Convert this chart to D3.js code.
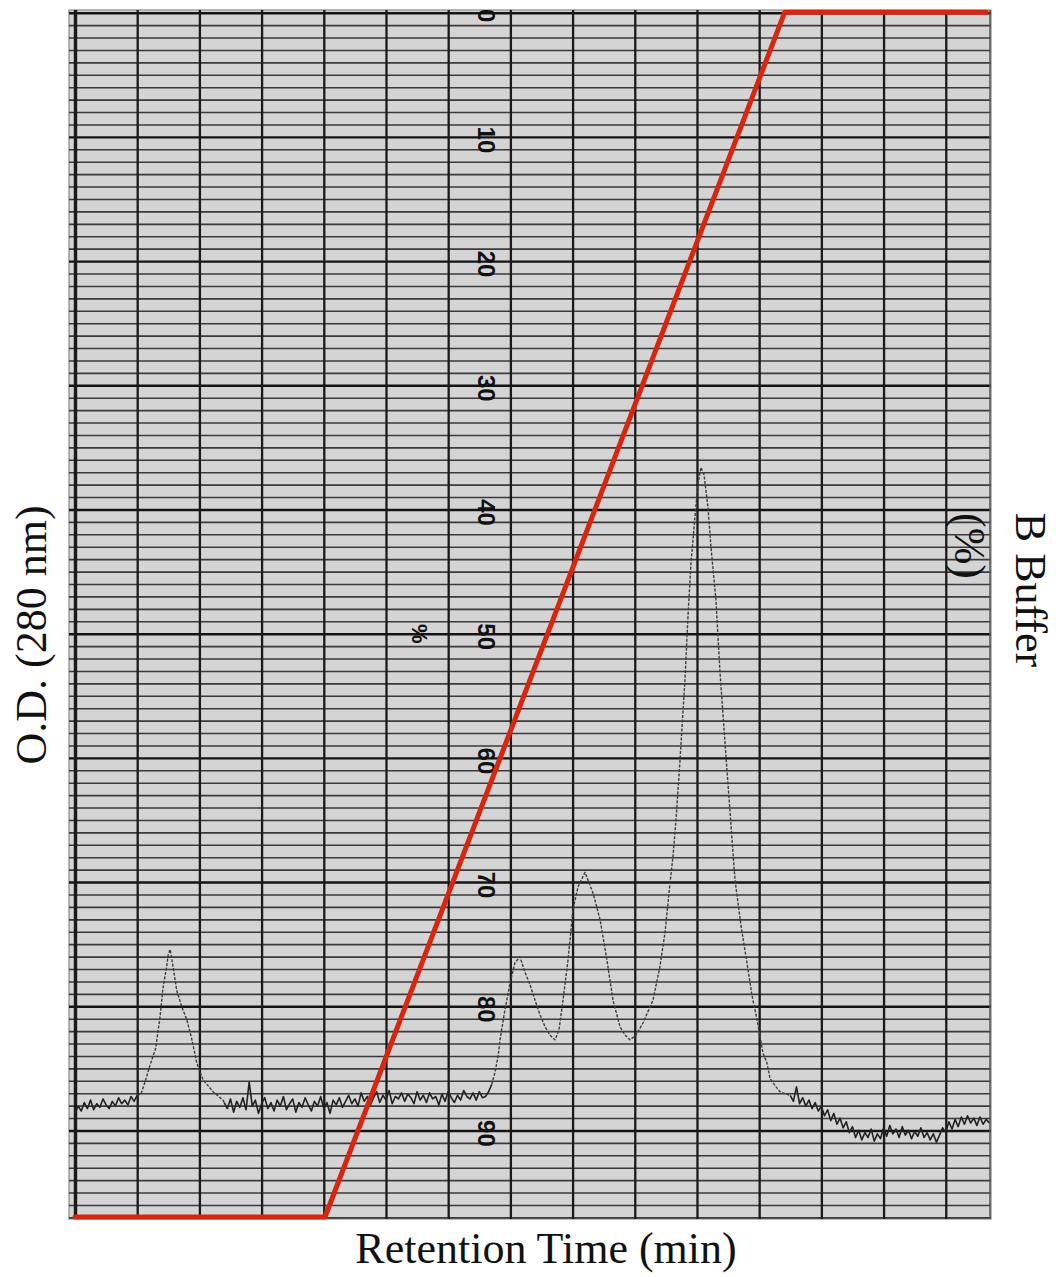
<!DOCTYPE html>
<html><head><meta charset="utf-8">
<script src="https://cdn.jsdelivr.net/npm/d3@7"></script>
<style>body{margin:0;background:#fff} svg{display:block}</style>
</head><body><svg id="chart" width="1056" height="1277"></svg>
<script>
// ---------- data ----------
const timeDomain = [0, 14.7];              // chart-paper divisions (retention time)
const timeGridValues = d3.range(0, 15);     // vertical paper lines
const paperPercentMax = 97;                 // printed paper scale visible (0 at top)
const paperGridValues = d3.range(0, 98);    // horizontal paper lines
const paperLabels = [0, 10, 20, 30, 40, 50, 60, 70, 80, 90];

// B buffer gradient (%)
const gradientTime = [0, 4.02, 11.41, 14.65];
const gradientB    = [0, 0, 100, 100];

// O.D. 280 nm trace (mAU), baseline sections sampled every 0.05 division
const baselineStep = 0.05;
const baseline1Start = 0.0;
const baseline1 = [86, 92, 88, 95, 90, 97, 89, 94, 91, 98, 93, 90, 96, 92, 99, 94, 97, 93, 100, 96, 101];
const peak1 = [[1.06,102],[1.125,112],[1.206,126],[1.297,140],[1.367,166],[1.415,190],[1.474,208],[1.50,218],[1.53,222],[1.576,208],[1.635,188],[1.72,174],[1.796,164],[1.876,148],[1.957,128],[2.058,114],[2.219,104],[2.379,97]];
const baseline2Start = 2.40;
const baseline2 = [
  95, 90, 98, 87, 96, 91, 99, 89, 112, 92,
  97, 86, 94, 99, 90, 95, 88, 97, 92, 100,
  89, 94, 98, 87, 95, 91, 99, 93, 88, 96,
  92, 100, 90, 95, 86, 97, 93, 99, 91, 96,
  101, 94, 98, 92, 103, 96, 100, 93, 99, 104,
  95, 101, 97, 105, 94, 100, 98, 103, 96, 102,
  99, 94, 104, 97, 101, 95, 103, 98, 100, 93,
  102, 96, 104, 99, 95, 101, 97, 105, 100, 98,
  103, 97, 104, 99, 100, 104, 110];
const peaks234 = [[6.70,110],[6.752,120],[6.801,133],[6.833,147],[6.913,172],[6.994,194],[7.074,211],[7.154,216],[7.235,203],[7.315,193],[7.395,180],[7.476,168],[7.556,158],[7.637,151],[7.717,147],[7.781,155],[7.846,180],[7.926,213],[8.006,255],[8.087,274],[8.199,286],[8.328,269],[8.441,247],[8.553,213],[8.65,180],[8.762,158],[8.842,151],[8.923,147],[9.019,151],[9.132,161],[9.293,180],[9.405,208],[9.486,236],[9.566,277],[9.614,299],[9.662,329],[9.727,379],[9.807,446],[9.855,498],[9.904,543],[9.968,581],[10.016,608],[10.064,622],[10.113,616],[10.177,589],[10.225,556],[10.305,512],[10.37,452],[10.482,371],[10.611,280],[10.707,242],[10.804,211],[10.884,184],[10.965,164],[11.061,136],[11.125,128],[11.174,115],[11.27,108],[11.334,104],[11.431,102]];
const baseline3Start = 11.50;
const baseline3 = [
  101, 96, 108, 94, 99, 92, 97, 90, 95, 88,
  92, 84, 89, 80, 86, 77, 82, 74, 79, 70,
  75, 66, 72, 64, 70, 66, 73, 63, 69, 65,
  74, 67, 76, 69, 73, 66, 75, 68, 72, 65,
  71, 67, 74, 66, 70, 64, 69, 62, 68, 74,
  70, 79, 73, 81, 75, 83, 77, 84, 78, 82,
  76, 83, 77, 81, 78];

// ---------- layout ----------
const paper = {left: 69, right: 991, top: 10, bottom: 1219};
const gridLeft = 75, gridRight = 989.3, gridTop = 12.7, gridBottom = 1217.4;

const svg = d3.select("#chart");

const x = d3.scaleLinear().domain(timeDomain).range([gridLeft, gridRight]);
const yPaper = d3.scaleLinear().domain([0, paperPercentMax]).range([gridTop, gridBottom]);
const yB = d3.scaleLinear().domain([0, 100]).range([1217, 12.3]);
const yOD = d3.scaleLinear().domain([0, 1000]).range([1217, 12]);

// paper
svg.append("defs").append("clipPath").attr("id", "paperClip")
  .append("rect").attr("x", paper.left).attr("y", paper.top)
  .attr("width", paper.right - paper.left).attr("height", paper.bottom - paper.top);

svg.append("rect").attr("x", paper.left).attr("y", paper.top)
  .attr("width", paper.right - paper.left).attr("height", paper.bottom - paper.top)
  .attr("fill", "#d4d4d4").attr("stroke", "#8a8a8a").attr("stroke-width", 1.2);

const gridG = svg.append("g").attr("clip-path", "url(#paperClip)");

// horizontal paper lines
const gh = gridG.append("g").attr("transform", `translate(${paper.left},0)`)
  .call(d3.axisLeft(yPaper).tickValues(paperGridValues).tickFormat("")
    .tickSize(-(paper.right - paper.left)).tickSizeOuter(0));
gh.select(".domain").remove();
gh.selectAll(".tick line")
  .attr("stroke", d => d % 10 === 0 ? "#141414" : "#3a3a3a")
  .attr("stroke-width", d => d % 10 === 0 ? 2.4 : 1.6);

// vertical paper lines
const gv = gridG.append("g").attr("transform", `translate(0,${paper.bottom})`)
  .call(d3.axisBottom(x).tickValues(timeGridValues).tickFormat("")
    .tickSize(-(paper.bottom - paper.top)).tickSizeOuter(0));
gv.select(".domain").remove();
gv.selectAll(".tick line")
  .attr("stroke", "#1a1a1a")
  .attr("stroke-width", d => d === 0 ? 3.4 : 2.3);

// right paper edge line
gridG.append("line").attr("x1", paper.right - 1).attr("x2", paper.right - 1)
  .attr("y1", paper.top).attr("y2", paper.bottom)
  .attr("stroke", "#555").attr("stroke-width", 1.5);

// printed paper scale labels
const labelX = 478;
gridG.selectAll("text.plab").data(paperLabels).join("text")
  .attr("class", "plab")
  .attr("transform", d => `translate(${labelX},${yPaper(d) + 3}) rotate(90)`)
  .attr("text-anchor", "middle")
  .attr("font-family", "Liberation Sans, Arial, sans-serif")
  .attr("font-weight", "bold")
  .attr("font-size", 24)
  .attr("fill", "#111")
  .text(d => d);
gridG.append("text")
  .attr("transform", `translate(412,${yPaper(50)}) rotate(90)`)
  .attr("text-anchor", "middle")
  .attr("font-family", "Liberation Sans, Arial, sans-serif")
  .attr("font-weight", "bold")
  .attr("font-size", 22)
  .attr("fill", "#111")
  .text("%");

// ---------- trace ----------
const toPts = (start, vals) => vals.map((v, i) => [start + i * baselineStep, v]);
const seg1 = toPts(baseline1Start, baseline1);
const seg2 = toPts(baseline2Start, baseline2);
const seg3 = toPts(baseline3Start, baseline3);

const line = d3.line().x(d => x(d[0])).y(d => yOD(d[1]));
const traceG = svg.append("g").attr("clip-path", "url(#paperClip)");

// peak parts (faint dotted pen)
[[seg1[seg1.length - 1], ...peak1, seg2[0]], [seg2[seg2.length - 1], ...peaks234, seg3[0]]].forEach(p => {
  traceG.append("path").datum(p).attr("d", line)
    .attr("fill", "none").attr("stroke", "#3d3d3d").attr("stroke-width", 1.4)
    .attr("stroke-dasharray", "3 1.5").attr("stroke-linejoin", "round");
});
// noisy baseline parts
[seg1, seg2, seg3].forEach(p => {
  traceG.append("path").datum(p).attr("d", line)
    .attr("fill", "none").attr("stroke", "#222").attr("stroke-width", 1.6)
    .attr("stroke-linejoin", "round");
});

// ---------- gradient (B buffer %) ----------
const grad = gradientTime.map((t, i) => [t, gradientB[i]]);
svg.append("path").datum(grad)
  .attr("d", d3.line().x(d => x(d[0])).y(d => yB(d[1])))
  .attr("fill", "none").attr("stroke", "#d6260f").attr("stroke-width", 5)
  .attr("stroke-linejoin", "round").attr("stroke-linecap", "round");

// ---------- axis titles ----------
const serif = "Liberation Serif, Times New Roman, serif";
svg.append("text")
  .attr("transform", "translate(46,635) rotate(-90)")
  .attr("text-anchor", "middle").attr("font-family", serif).attr("font-size", 44)
  .attr("fill", "#111").text("O.D. (280 nm)");
svg.append("text")
  .attr("transform", "translate(1016,590) rotate(90)")
  .attr("text-anchor", "middle").attr("font-family", serif).attr("font-size", 44)
  .attr("fill", "#111").text("B Buffer");
svg.append("text")
  .attr("transform", "translate(955,546) rotate(90)")
  .attr("text-anchor", "middle").attr("font-family", serif).attr("font-size", 44)
  .attr("fill", "#111").text("(%)");
svg.append("text")
  .attr("x", 546).attr("y", 1263)
  .attr("text-anchor", "middle").attr("font-family", serif).attr("font-size", 44)
  .attr("fill", "#111").text("Retention Time (min)");
</script>
</body></html>
